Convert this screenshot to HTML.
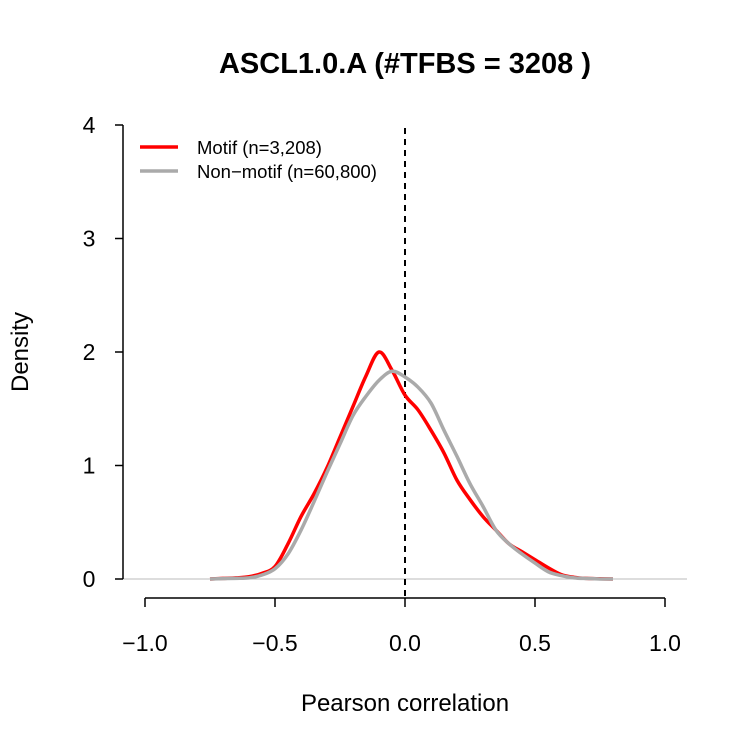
<!DOCTYPE html>
<html><head><meta charset="utf-8"><style>
body{margin:0;background:#fff}
svg text{font-family:"Liberation Sans",Arial,sans-serif}
</style></head><body>
<svg id="chart" width="750" height="750" xmlns="http://www.w3.org/2000/svg">
<text x="405" y="73" text-anchor="middle" font-size="29" font-weight="bold">ASCL1.0.A (#TFBS = 3208 )</text>
<text x="405" y="711" text-anchor="middle" font-size="24">Pearson correlation</text>
<text transform="translate(28,352) rotate(-90)" text-anchor="middle" font-size="24">Density</text>
<g id="axes"></g>
<line x1="405" y1="128" x2="405" y2="598" stroke="#000" stroke-width="2" stroke-dasharray="6,5"/>
<g id="series"></g>
<g>
<line x1="140" y1="147" x2="178" y2="147" stroke="#f00" stroke-width="3.5"/>
<text x="197" y="154" font-size="18.5">Motif (n=3,208)</text>
<line x1="140" y1="171" x2="178" y2="171" stroke="#aaa" stroke-width="3.5"/>
<text x="197" y="178" font-size="18.5">Non−motif (n=60,800)</text>
</g>
</svg>
<script>
const xTicks=[-1,-0.5,0,0.5,1];
const xTickLabels=["−1.0","−0.5","0.0","0.5","1.0"];
const yTicks=[0,1,2,3,4];
const xs=[-0.75,-0.7,-0.65,-0.6,-0.55,-0.5,-0.45,-0.4,-0.35,-0.3,-0.25,-0.2,-0.15,-0.1,-0.05,0,0.05,0.1,0.15,0.2,0.25,0.3,0.35,0.4,0.45,0.5,0.55,0.6,0.65,0.7,0.75,0.8];
const motif=[0,0.005,0.01,0.02,0.05,0.11,0.31,0.55,0.75,0.98,1.25,1.52,1.79,2.0,1.84,1.62,1.49,1.31,1.11,0.87,0.70,0.55,0.43,0.31,0.24,0.17,0.10,0.04,0.015,0.005,0.002,0];
const nonMotif=[0,0.003,0.006,0.01,0.035,0.09,0.22,0.43,0.68,0.94,1.19,1.44,1.61,1.75,1.83,1.78,1.69,1.55,1.31,1.08,0.84,0.64,0.43,0.31,0.22,0.14,0.065,0.03,0.01,0.004,0,0];
const X=v=>405+260*v, Y=v=>579-113.5*v;
const NS="http://www.w3.org/2000/svg";
const ax=document.getElementById('axes'), sg=document.getElementById('series');
function mk(t,a,p){const e=document.createElementNS(NS,t);for(const k in a)e.setAttribute(k,a[k]);p.appendChild(e);return e;}
let e=mk('line',{x1:123,y1:579,x2:687,y2:579,stroke:'#bbb','stroke-width':1},ax);


e=mk('line',{x1:X(-1),y1:598,x2:X(1),y2:598,stroke:'#000','stroke-width':1.5},ax);


xTicks.forEach((t,i)=>{
 let l=mk('line',{x1:X(t),y1:598,x2:X(t),y2:607,stroke:'#000','stroke-width':1.5},ax);
 
 
 let tx=mk('text',{x:X(t),y:651,'text-anchor':'middle','font-size':23},ax);tx.textContent=xTickLabels[i];
 
 
});
e=mk('line',{x1:123,y1:Y(0),x2:123,y2:Y(4),stroke:'#000','stroke-width':1.5},ax);


yTicks.forEach(t=>{
 let l=mk('line',{x1:115,y1:Y(t),x2:123,y2:Y(t),stroke:'#000','stroke-width':1.5},ax);
 
 
 let tx=mk('text',{x:89,y:Y(t)+8,'text-anchor':'middle','font-size':23},ax);tx.textContent=t;
 
 
});
function path(vals){
 const p=xs.map((x,i)=>[X(x),Y(vals[i])]);
 let d='M'+p[0][0]+','+p[0][1];
 for(let i=0;i<p.length-1;i++){
  const p0=p[i-1]||p[i],p1=p[i],p2=p[i+1],p3=p[i+2]||p2;
  d+=` C${p1[0]+(p2[0]-p0[0])/6},${p1[1]+(p2[1]-p0[1])/6} ${p2[0]-(p3[0]-p1[0])/6},${p2[1]-(p3[1]-p1[1])/6} ${p2[0]},${p2[1]}`;
 }
 return d;
}
e=mk('path',{d:path(motif),fill:'none',stroke:'#f00','stroke-width':3.5,'stroke-linejoin':'round'},sg);


e=mk('path',{d:path(nonMotif),fill:'none',stroke:'#aaa','stroke-width':3.5,'stroke-linejoin':'round'},sg);


</script>
</body></html>
